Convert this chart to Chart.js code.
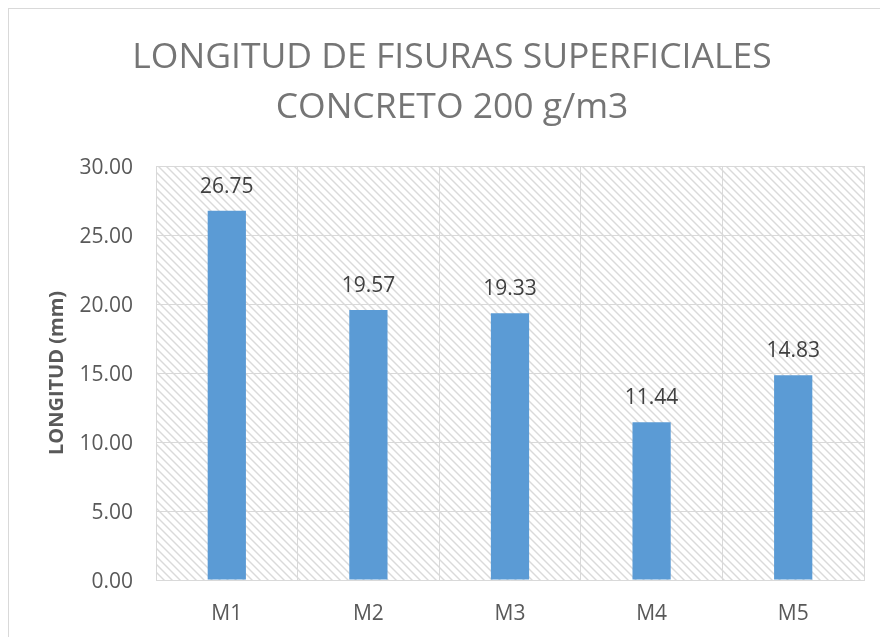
<!DOCTYPE html>
<html>
<head>
<meta charset="utf-8">
<script src="https://cdn.jsdelivr.net/npm/chart.js@4/dist/chart.umd.min.js"></script>
<style>
  body { margin: 0; background: #fff; overflow: hidden; }
  #frame { position: absolute; left: 8px; top: 8px; width: 1000px; height: 1000px; border: 1px solid #d9d9d9; }
  #chart { position: absolute; left: 0; top: 0; }
</style>
</head>
<body>
<div id="frame"></div>
<canvas id="chart" width="880" height="637"></canvas>
<script>
const titleLines = ["LONGITUD DE FISURAS SUPERFICIALES", "CONCRETO 200 g/m3"];
const muestras = ["M1", "M2", "M3", "M4", "M5"];
const longitudes = [26.75, 19.57, 19.33, 11.44, 14.83];
const yTicks = [0, 5, 10, 15, 20, 25, 30];

// diagonal hatch for the plot area
function makeHatch() {
  let c = document.createElement("canvas");
  c.width = 8;
  c.height = 8;
  let g = c.getContext("2d");
  g.strokeStyle = "#dadada";
  g.lineWidth = 1.4;
  [-8, 0, 8].forEach(o => {
    g.beginPath();
    g.moveTo(o - 1, -1);
    g.lineTo(o + 9, 9);
    g.stroke();
  });
  return g.createPattern(c, "repeat");
}

const hatchBg = {
  id: "hatchBg",
  beforeDraw(chart) {
    let a = chart.chartArea;
    let ctx = chart.ctx;
    ctx.save();
    ctx.fillStyle = makeHatch();
    ctx.fillRect(a.left, a.top, a.right - a.left, a.bottom - a.top);
    ctx.restore();
  }
};

const valueLabels = {
  id: "valueLabels",
  afterDatasetsDraw(chart) {
    let ctx = chart.ctx;
    ctx.save();
    ctx.font = "21px 'Open Sans'";
    ctx.fillStyle = "#404040";
    ctx.textAlign = "center";
    ctx.textBaseline = "middle";
    chart.getDatasetMeta(0).data.forEach((bar, i) => {
      ctx.fillText(longitudes[i].toFixed(2), bar.x, bar.y - 24);
    });
    ctx.restore();
  }
};

new Chart(document.getElementById("chart"), {
  type: "bar",
  data: {
    labels: muestras,
    datasets: [{
      label: "Longitud",
      data: longitudes,
      backgroundColor: "#5b9bd5",
      categoryPercentage: 1,
      barPercentage: 0.27
    }]
  },
  plugins: [hatchBg, valueLabels],
  options: {
    responsive: false,
    animation: false,
    layout: { padding: { left: 24, right: 0, top: 10, bottom: 0 } },
    plugins: {
      legend: { display: false },
      tooltip: { enabled: false },
      title: {
        display: true,
        text: titleLines,
        color: "#757575",
        font: { family: "Open Sans", size: 35.5, weight: "normal", lineHeight: 50 / 35.5 },
        padding: { top: 23, bottom: 33 }
      }
    },
    scales: {
      x: {
        grid: { color: "#d9d9d9", drawTicks: false, offset: true },
        border: { color: "#d9d9d9" },
        ticks: { color: "#595959", padding: 21, font: { family: "Open Sans", size: 21 } },
        afterFit(s) { s.height = 57; }
      },
      y: {
        min: 0,
        max: 30,
        afterBuildTicks(s) { s.ticks = yTicks.map(v => ({ value: v })); },
        grid: { color: "#d9d9d9", drawTicks: false },
        border: { color: "#d9d9d9" },
        ticks: {
          color: "#595959",
          padding: 23,
          labelOffset: 2,
          font: { family: "Open Sans", size: 21 },
          callback: v => v.toFixed(2)
        },
        title: {
          display: true,
          text: "LONGITUD (mm)",
          color: "#595959",
          font: { family: "Open Sans", size: 20, weight: "bold" },
          padding: { top: 21, bottom: 0 }
        },
        afterFit(s) { s.width = 132; }
      },
      yRight: {
        position: "right",
        grid: { display: false },
        border: { display: false },
        ticks: { display: false },
        afterFit(s) { s.width = 16; }
      }
    }
  }
});
</script>
</body>
</html>
